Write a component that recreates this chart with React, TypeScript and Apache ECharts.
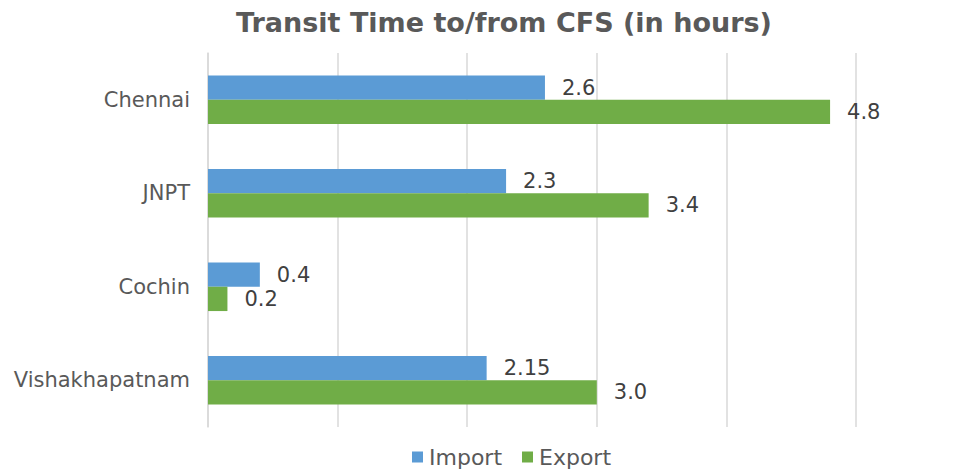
import React, { useEffect, useRef } from "react";
import * as echarts from "echarts";

const categories = ["Chennai", "JNPT", "Cochin", "Vishakhapatnam"];
const importValues = [2.6, 2.3, 0.4, 2.15];
const exportValues = [4.8, 3.4, 0.15, 3.0];
const importLabels = ["2.6", "2.3", "0.4", "2.15"];
const exportLabels = ["4.8", "3.4", "0.2", "3.0"];

const FONT = "DejaVu Sans";

export default function App() {
  const ref = useRef<HTMLDivElement>(null);
  useEffect(() => {
    if (!ref.current) return;
    const chart = echarts.init(ref.current, null, { renderer: "svg" });
    const labelStyle = {
      show: true,
      position: "right" as const,
      distance: 17,
      fontFamily: FONT,
      fontSize: 21,
      color: "#404040",
    };
    chart.setOption({
      animation: false,
      backgroundColor: "#ffffff",
      title: {
        text: "Transit Time to/from CFS (in hours)",
        left: 496,
        top: 1,
        padding: 0,
        textAlign: "center",
        textStyle: { fontFamily: FONT, fontSize: 27, fontWeight: "bold", color: "#595959" },
      },
      legend: {
        top: 438,
        left: 404,
        padding: 0,
        itemWidth: 11,
        itemHeight: 11,
        itemGap: 20,
        icon: "rect",
        textStyle: { fontFamily: FONT, fontSize: 22, color: "#595959", padding: [0, 0, 0, 1] },
        data: ["Import", "Export"],
      },
      grid: { left: 200, right: 114, top: 45, bottom: 43, containLabel: false },
      xAxis: {
        type: "value",
        min: 0,
        max: 5,
        interval: 1,
        axisLabel: { show: false },
        axisTick: { show: false },
        axisLine: { show: false },
        splitLine: { show: true, lineStyle: { color: "#d9d9d9", width: 1.5 } },
      },
      yAxis: {
        type: "category",
        inverse: true,
        data: categories,
        axisTick: { show: false },
        axisLine: { show: true, lineStyle: { color: "#d9d9d9", width: 1.5 } },
        axisLabel: { fontFamily: FONT, fontSize: 21, color: "#595959", margin: 18 },
      },
      series: [
        {
          name: "Import",
          type: "bar",
          data: importValues,
          itemStyle: { color: "#5b9bd5" },
          barGap: "0%",
          barCategoryGap: "48%",
          label: { ...labelStyle, formatter: (p: any) => importLabels[p.dataIndex] },
        },
        {
          name: "Export",
          type: "bar",
          data: exportValues,
          itemStyle: { color: "#70ad47" },
          barGap: "0%",
          barCategoryGap: "48%",
          label: { ...labelStyle, formatter: (p: any) => exportLabels[p.dataIndex] },
        },
      ],
    });
    return () => chart.dispose();
  }, []);
  return <div ref={ref} style={{ width: 962, height: 462 }} />;
}
